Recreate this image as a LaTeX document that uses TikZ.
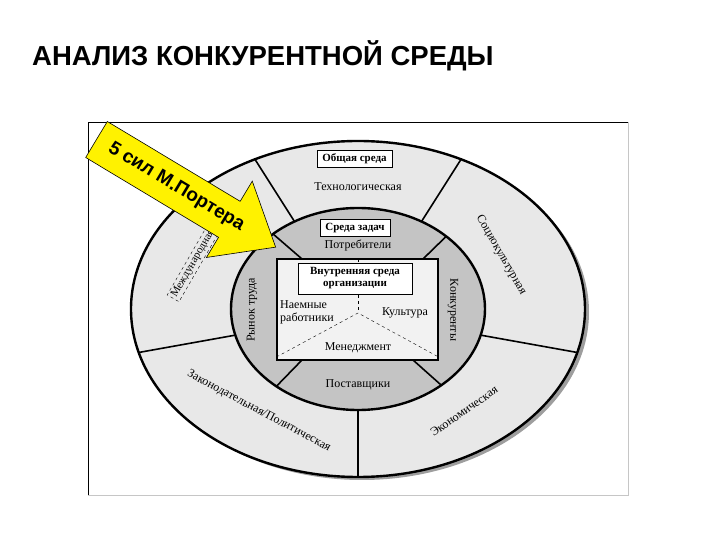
\documentclass[tikz,border=0pt]{standalone}
\usepackage{fontspec}
\setmainfont{Liberation Serif}
\newfontfamily\headfont{Liberation Sans}
\usetikzlibrary{positioning}

\definecolor{outergray}{gray}{0.91}
\definecolor{midgray}{gray}{0.77}
\definecolor{innergray}{gray}{0.95}
\definecolor{shadowgray}{gray}{0.62}

\tikzstyle{ring}=[draw=black,line width=2.4pt,fill=#1]
\tikzstyle{divider}=[line width=1.6pt]
\tikzstyle{labelbox}=[draw=black,fill=white,font=\bfseries\fontsize{11}{12}\selectfont,inner xsep=5.5pt,inner ysep=3.5pt]
\newcommand{\ringlabel}[5]{\node[font=\fontsize{12}{13}\selectfont,rotate=#4,#5] (#1) at (#2) {#3};}

\begin{document}
\begin{tikzpicture}[x=1pt,y=1pt]
\useasboundingbox (-358,-231) rectangle (362,309);

% title
\node[anchor=base west,inner sep=0,font=\headfont\bfseries\fontsize{27.5}{30}\selectfont] (title) at (-326,243.5) {АНАЛИЗ КОНКУРЕНТНОЙ СРЕДЫ};

% frame
\draw[gray!45,line width=0.8pt] (-270,-186) rectangle (270,187);
\draw[black,line width=0.9pt] (-270,-186) -- (-270,187) -- (270,187);

% general environment
\fill[shadowgray] (4,-3) ellipse [x radius=227pt,y radius=168pt];
\draw[ring=outergray] (0,0) ellipse [x radius=227pt,y radius=168pt];
\draw[divider] (117:227pt and 168pt) -- (120:127pt and 101pt);
\draw[divider] (63:227pt and 168pt) -- (60:127pt and 101pt);
\draw[divider] (195:227pt and 168pt) -- (195:127pt and 101pt);
\draw[divider] (345:227pt and 168pt) -- (345:127pt and 101pt);
\draw[divider] (270:227pt and 168pt) -- (270:127pt and 101pt);

% task environment
\draw[ring=midgray] (0,0) ellipse [x radius=127pt,y radius=101pt];
\draw[divider] (-56,50) -- (132:127pt and 101pt);
\draw[divider] (65,50) -- (46:127pt and 101pt);
\draw[divider] (-56,-51) -- (230:127pt and 101pt);
\draw[divider] (55,-51) -- (311:127pt and 101pt);

% internal environment
\node[draw,line width=1.2pt,fill=innergray,minimum width=161pt,minimum height=101pt,inner sep=0] (inner) at (-0.5,-0.5) {};
\coordinate (mid) at (0,-4);
\draw[dashed,thin] (0,50) -- (mid);
\draw[dashed,thin] (inner.west |- 0,-48) -- (mid) -- (inner.east |- 0,-48);
\node[labelbox,align=center,minimum width=114pt,minimum height=31pt,inner sep=1pt] (orgbox) at (-3,30.5) {Внутренняя среда\\организации};

\ringlabel{staff}{-78,-3}{Наемные\\работники}{0}{anchor=west,align=left,inner sep=0}
\ringlabel{culture}{47,-4}{Культура}{0}{}
\ringlabel{mgmt}{0,-39}{Менеджмент}{0}{}

% task labels
\node[labelbox] (taskbox) at (-3,81) {Среда задач};
\ringlabel{clients}{0,64}{Потребители}{0}{}
\ringlabel{suppliers}{0,-76}{Поставщики}{0}{}
\ringlabel{labour}{-106,-1}{Рынок труда}{90}{}
\ringlabel{rivals}{95,-1}{Конкуренты}{-90}{}

% general labels
\node[labelbox] (genbox) at (-3.5,150.5) {Общая среда};
\ringlabel{tech}{0,122}{Технологическая}{0}{}
\ringlabel{social}{143,54}{Социокультурная}{-60}{}
\ringlabel{econ}{106,-102}{Экономическая}{35}{}
\ringlabel{law}{-99,-102}{Законодательная/Политическая}{-28}{}
\node[draw,dashed,thin,fill=outergray,rotate=60,anchor=west,inner sep=2pt,font=\fontsize{11}{12}\selectfont] (intl) at (-185,10.5) {Международная};

% Porter arrow
\begin{scope}[shift={(-261.5,169.5)},rotate=-31,transform shape]
  \draw[fill=yellow,line width=0.6pt] (0,21) -- (155,21) -- (155,44.5) -- (209,0) -- (155,-44.5) -- (155,-21) -- (0,-21) -- cycle;
  \node[font=\headfont\bfseries\fontsize{19}{20}\selectfont] (porter) at (93,0) {5 сил М.Портера};
\end{scope}
\end{tikzpicture}
\end{document}
